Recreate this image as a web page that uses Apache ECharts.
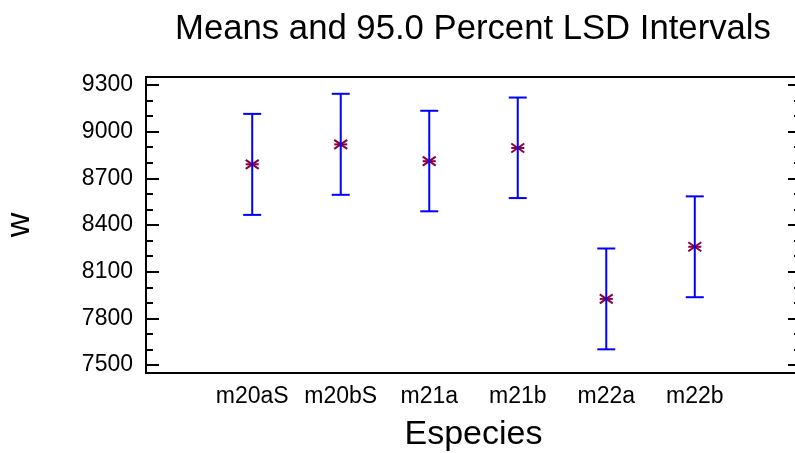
<!DOCTYPE html>
<html>
<head>
<meta charset="utf-8">
<script src="https://cdn.jsdelivr.net/npm/echarts@6/dist/echarts.min.js"></script>
<style>
  html, body { margin: 0; padding: 0; background: #fff; }
  #chart { width: 795px; height: 453px; }
</style>
</head>
<body>
<div id="chart"></div>
<script>
// Species groups and their means with 95% LSD interval bounds (w)
const categories = ['m20aS', 'm20bS', 'm21a', 'm21b', 'm22a', 'm22b'];
const means = [8790, 8918, 8810, 8895, 7925, 8260];
const lower = [8465, 8594, 8488, 8573, 7601, 7936];
const upper = [9114, 9243, 9134, 9219, 8249, 8584];

// Y axis ticks
const majorTicks = [7500, 7800, 8100, 8400, 8700, 9000, 9300];
const minorTicks = [7600, 7700, 7900, 8000, 8200, 8300, 8500, 8600, 8800, 8900, 9100, 9200];
const catPositions = categories.map((c, i) => i);

const FONT = '"Liberation Sans", Arial, sans-serif';
const Y_MIN = 7449, Y_MAX = 9351;

const chart = echarts.init(document.getElementById('chart'), null, { renderer: 'canvas' });

function yAxisDef(position, ticks, len, withLabels, withLine) {
  return {
    type: 'value',
    position: position,
    min: Y_MIN,
    max: Y_MAX,
    splitLine: { show: false },
    axisLine: { show: withLine, onZero: false, lineStyle: { color: '#000', width: 2 } },
    axisTick: {
      show: true, inside: true, length: len, customValues: ticks,
      lineStyle: { color: '#000', width: 2 }
    },
    axisLabel: {
      show: withLabels, customValues: ticks, margin: 13,
      color: '#000', fontFamily: FONT, fontSize: 23,
      formatter: (v) => String(v)
    }
  };
}

const yAxes = [
  yAxisDef('left', majorTicks, 13, true, true),
  yAxisDef('left', minorTicks, 7, false, false),
  yAxisDef('right', majorTicks, 13, false, true),
  yAxisDef('right', minorTicks, 7, false, false)
];
yAxes[0].name = 'w';
yAxes[0].nameLocation = 'middle';
yAxes[0].nameRotate = 90;
yAxes[0].nameGap = 109;
yAxes[0].nameTextStyle = { color: '#000', fontFamily: FONT, fontSize: 34 };

const option = {
  backgroundColor: '#fff',
  animation: false,
  title: {
    text: 'Means and 95.0 Percent LSD Intervals',
    left: 473,
    top: 12,
    textAlign: 'center',
    padding: 0,
    textStyle: { color: '#000', fontFamily: FONT, fontSize: 34.7, fontWeight: 'normal' }
  },
  grid: {
    left: 146, top: 77, width: 655, height: 296,
    outerBoundsMode: 'none',
    containLabel: false,
    show: true, borderColor: '#000', borderWidth: 2, backgroundColor: 'transparent'
  },
  xAxis: {
    type: 'value',
    min: -1.2,
    max: 6.2,
    name: 'Especies',
    nameLocation: 'middle',
    nameGap: 45,
    nameTextStyle: { color: '#000', fontFamily: FONT, fontSize: 34 },
    splitLine: { show: false },
    axisLine: { show: true, onZero: false, lineStyle: { color: '#000', width: 2 } },
    axisTick: { show: false },
    axisLabel: {
      customValues: catPositions,
      margin: 12,
      color: '#000', fontFamily: FONT, fontSize: 23,
      formatter: (v) => categories[Math.round(v)]
    }
  },
  yAxis: yAxes,
  series: [{
    type: 'custom',
    xAxisIndex: 0,
    yAxisIndex: 0,
    data: categories.map((c, i) => [i, lower[i], upper[i], means[i]]),
    renderItem: function (params, api) {
      const x = api.value(0);
      const pLo = api.coord([x, api.value(1)]);
      const pHi = api.coord([x, api.value(2)]);
      const pM = api.coord([x, api.value(3)]);
      const cap = 9;
      const mw = 6.5, mh = 4.5;
      const blue = { stroke: '#0000ff', lineWidth: 2 };
      const mark = { stroke: '#880044', lineWidth: 2 };
      return {
        type: 'group',
        children: [
          { type: 'line', shape: { x1: pM[0] - mw, y1: pM[1] - mh, x2: pM[0] + mw, y2: pM[1] + mh }, style: mark },
          { type: 'line', shape: { x1: pM[0] - mw, y1: pM[1] + mh, x2: pM[0] + mw, y2: pM[1] - mh }, style: mark },
          { type: 'line', shape: { x1: pM[0] - mw, y1: pM[1], x2: pM[0] + mw, y2: pM[1] }, style: mark },
          { type: 'line', shape: { x1: pLo[0], y1: pLo[1], x2: pHi[0], y2: pHi[1] }, style: blue },
          { type: 'line', shape: { x1: pHi[0] - cap, y1: pHi[1], x2: pHi[0] + cap, y2: pHi[1] }, style: blue },
          { type: 'line', shape: { x1: pLo[0] - cap, y1: pLo[1], x2: pLo[0] + cap, y2: pLo[1] }, style: blue }
        ]
      };
    }
  }]
};

chart.setOption(option);
</script>
</body>
</html>
